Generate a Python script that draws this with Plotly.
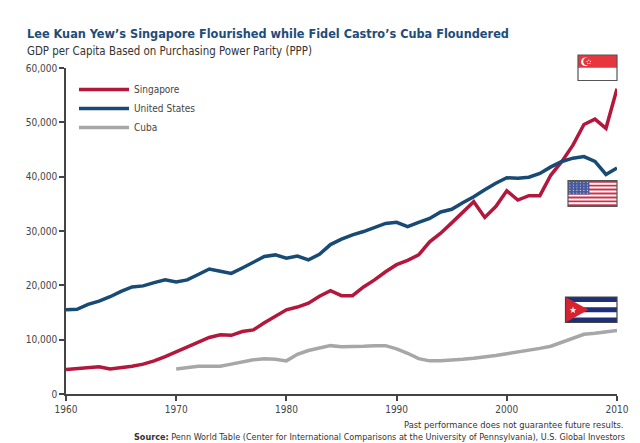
import plotly.graph_objects as go
import math

years = list(range(1960, 2011))
singapore = [4500, 4700, 4800, 5000, 4600, 4800, 5100, 5500, 6100, 6900,
             7800, 8700, 9600, 10400, 10900, 10800, 11500, 11800, 13100, 14300,
             15500, 16000, 16700, 18000, 19000, 18100, 18100, 19700, 21000, 22500,
             23800, 24600, 25600, 28000, 29600, 31500, 33500, 35400, 32500, 34500,
             37400, 35700, 36500, 36500, 40300, 42800, 45800, 49600, 50600, 48900,
             56200]
united_states = [15500, 15600, 16500, 17100, 17900, 18900, 19700, 19900, 20500, 21000,
                 20600, 21000, 22000, 23000, 22600, 22200, 23200, 24300, 25300, 25600,
                 25000, 25400, 24700, 25700, 27500, 28500, 29300, 29900, 30700, 31400,
                 31600, 30800, 31600, 32300, 33500, 34000, 35200, 36300, 37600, 38800,
                 39800, 39700, 39900, 40600, 41800, 42800, 43400, 43700, 42800, 40400,
                 41600]
cuba_years = list(range(1970, 2011))
cuba = [4600, 4900, 5100, 5100, 5100, 5500, 5900, 6300, 6500, 6400,
        6100, 7300, 8000, 8400, 8900, 8700, 8700, 8800, 8900, 8900,
        8300, 7500, 6500, 6100, 6100, 6200, 6400, 6600, 6800, 7100,
        7400, 7700, 8000, 8400, 8800, 9500, 10300, 11000, 11200, 11500,
        11700]
x_ticks = [1960, 1970, 1980, 1990, 2000, 2010]
y_ticks = [0, 10000, 20000, 30000, 40000, 50000, 60000]

W, H = 640, 443
ML, MR, MT, MB = 58, 31, 60, 57
PW, PH = W - ML - MR, H - MT - MB

def fx(px):
    return (px - ML) / PW

def fy(py):
    return (H - MB - py) / PH

FONT = "Liberation Sans Narrow, DejaVu Sans Condensed, Roboto, Arial"
RED = "#b3173c"
NAVY = "#174a74"
GRAY = "#a7a7a7"

fig = go.Figure()
fig.add_trace(go.Scatter(x=years, y=singapore, mode="lines", name="Singapore",
                         line=dict(color=RED, width=3.5)))
fig.add_trace(go.Scatter(x=years, y=united_states, mode="lines", name="United States",
                         line=dict(color=NAVY, width=3.5)))
fig.add_trace(go.Scatter(x=cuba_years, y=cuba, mode="lines", name="Cuba",
                         line=dict(color=GRAY, width=3.5)))

shapes = []

def rect(x0, y0, x1, y1, fill):
    shapes.append(dict(type="rect", xref="paper", yref="paper",
                       x0=fx(x0), x1=fx(x1), y0=fy(y0), y1=fy(y1),
                       fillcolor=fill, line=dict(width=0), layer="above"))

def frame(x0, y0, x1, y1, color):
    shapes.append(dict(type="rect", xref="paper", yref="paper",
                       x0=fx(x0), x1=fx(x1), y0=fy(y0), y1=fy(y1),
                       fillcolor="rgba(0,0,0,0)", line=dict(color=color, width=1.2),
                       layer="above"))

def circle(cx, cy, r, fill):
    shapes.append(dict(type="circle", xref="paper", yref="paper",
                       x0=fx(cx - r), x1=fx(cx + r), y0=fy(cy + r), y1=fy(cy - r),
                       fillcolor=fill, line=dict(width=0), layer="above"))

def poly(pts, fill):
    path = "M " + " L ".join(f"{fx(a):.5f},{fy(b):.5f}" for a, b in pts) + " Z"
    shapes.append(dict(type="path", xref="paper", yref="paper", path=path,
                       fillcolor=fill, line=dict(width=0), layer="above"))

def star(cx, cy, r_out, r_in):
    pts = []
    for i in range(10):
        ang = -math.pi / 2 + i * math.pi / 5
        r = r_out if i % 2 == 0 else r_in
        pts.append((cx + r * math.cos(ang), cy + r * math.sin(ang)))
    return pts

# Singapore flag
sx0, sy0, sx1, sy1 = 570, 47, 609, 72.5
rect(sx0, sy0, sx1, sy1, "white")
rect(sx0, sy0, sx1, (sy0 + sy1) / 2, "#e8363e")
circle(577.3, 53.8, 4.3, "white")
circle(578.9, 53.4, 3.7, "#e8363e")
for i in range(5):
    ang = -math.pi / 2 + i * 2 * math.pi / 5
    circle(580.8 + 1.8 * math.cos(ang), 54.0 + 1.8 * math.sin(ang), 0.6, "white")
frame(sx0, sy0, sx1, sy1, "#555555")

# US flag
ux0, uy0, ux1, uy1 = 560, 172.7, 609, 198.3
rect(ux0, uy0, ux1, uy1, "white")
sh = (uy1 - uy0) / 13
for i in range(0, 13, 2):
    rect(ux0, uy0 + i * sh, ux1, uy0 + (i + 1) * sh, "#c8334a")
rect(ux0, uy0, 581.5, uy0 + 7 * sh, "#4a5a9a")
for r in range(5):
    for c in range(6):
        circle(ux0 + 1.9 + c * 3.5, uy0 + 1.6 + r * 2.7, 0.55, "#dfe3f2")
frame(ux0, uy0, ux1, uy1, "#555555")

# Cuba flag
cx0, cy0, cx1, cy1 = 557.5, 289, 609, 314.5
rect(cx0, cy0, cx1, cy1, "white")
ch = (cy1 - cy0) / 5
for i in range(0, 5, 2):
    rect(cx0, cy0 + i * ch, cx1, cy0 + (i + 1) * ch, "#1d2f7a")
poly([(cx0, cy0), (580.5, (cy0 + cy1) / 2), (cx0, cy1)], "#d6232f")
poly(star(565.0, 302.2, 3.6, 1.45), "white")
frame(cx0, cy0, cx1, cy1, "#444444")

annotations = [
    dict(text="<b>Lee Kuan Yew’s Singapore Flourished while Fidel Castro’s Cuba Floundered</b>",
         xref="paper", yref="paper", x=fx(17), y=fy(26), xanchor="left", yanchor="middle",
         showarrow=False, font=dict(family=FONT, size=12.6, color="#1d4d7a")),
    dict(text="GDP per Capita Based on Purchasing Power Parity (PPP)",
         xref="paper", yref="paper", x=fx(17), y=fy(43), xanchor="left", yanchor="middle",
         showarrow=False, font=dict(family=FONT, size=11.4, color="#333333")),
    dict(text="Past performance does not guarantee future results.",
         xref="paper", yref="paper", x=fx(618), y=fy(416.5), xanchor="right", yanchor="middle",
         showarrow=False, font=dict(family=FONT, size=9.3, color="#333333")),
    dict(text="<b>Source:</b> Penn World Table (Center for International Comparisons at the University of Pennsylvania), U.S. Global Investors",
         xref="paper", yref="paper", x=fx(619), y=fy(428.5), xanchor="right", yanchor="middle",
         showarrow=False, font=dict(family=FONT, size=9, color="#333333")),
]

fig.update_layout(
    width=W, height=H,
    margin=dict(l=ML, r=MR, t=MT, b=MB),
    paper_bgcolor="white", plot_bgcolor="white",
    font=dict(family=FONT, size=10, color="#444444"),
    showlegend=True,
    legend=dict(x=fx(66), y=fy(67), xanchor="left", yanchor="top",
                bgcolor="rgba(0,0,0,0)", font=dict(family=FONT, size=10, color="#444444"),
                itemwidth=50, tracegroupgap=0),
    xaxis=dict(range=[1960, 2010], tickvals=x_ticks, showgrid=False, zeroline=False,
               showline=True, linecolor="#444444", linewidth=1.5,
               ticks="outside", ticklen=5, tickcolor="#444444", tickwidth=1.5,
               tickfont=dict(family=FONT, size=10, color="#444444")),
    yaxis=dict(range=[0, 60000], tickvals=y_ticks, tickformat=",", showgrid=False,
               zeroline=False, showline=True, linecolor="#444444", linewidth=1.5,
               ticks="outside", ticklen=5, tickcolor="#444444", tickwidth=1.5,
               tickfont=dict(family=FONT, size=10, color="#444444")),
    shapes=shapes,
    annotations=annotations,
)

fig.write_html("out.html")
